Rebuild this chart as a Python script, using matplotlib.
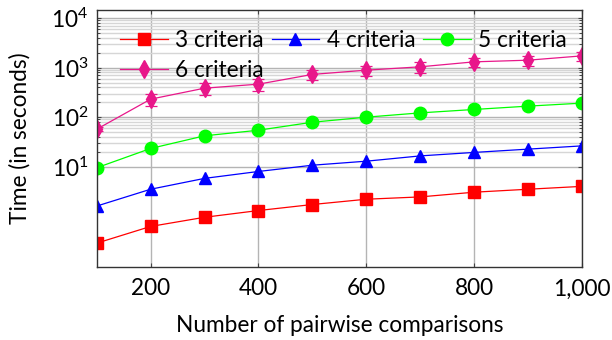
import numpy as np
import matplotlib.pyplot as plt
from matplotlib.ticker import FixedLocator, NullFormatter

plt.rcParams['font.family'] = ['Lato', 'DejaVu Sans']
plt.rcParams['mathtext.fontset'] = 'custom'
plt.rcParams['mathtext.rm'] = 'Lato'
plt.rcParams['mathtext.it'] = 'Lato:italic'

# Datos
comparaciones = [100, 200, 300, 400, 500, 600, 700, 800, 900, 1000]
t3 = [0.285, 0.62, 0.95, 1.3, 1.72, 2.2, 2.45, 3.05, 3.5, 4.0]
t4 = [1.6, 3.5, 5.8, 8.0, 10.7, 12.9, 16.5, 19.4, 22.6, 26.3]
t5 = [9.5, 23.3, 42, 54.5, 79, 100, 122, 143, 167, 192]
t6 = [57, 231, 385, 464, 730, 890, 1040, 1310, 1415, 1730]
err6 = [5, 60, 100, 120, 175, 210, 270, 270, 310, 350]

xticks = [200, 400, 600, 800, 1000]
xlabels = ['200', '400', '600', '800', '1,000']
yticks = [10, 100, 1000, 10000]
ylabels = ['$\\mathrm{10}^{1}$', '$\\mathrm{10}^{2}$', '$\\mathrm{10}^{3}$', '$\\mathrm{10}^{4}$']

rosa = '#e8178a'
fs = 16.3

fig = plt.figure(figsize=(6.12, 3.4), dpi=100)
ax = fig.add_axes([0.158, 0.214, 0.793, 0.757])

l3, = ax.plot(comparaciones, t3, color='red', marker='s', ms=8.5, lw=0.9)
l4, = ax.plot(comparaciones, t4, color='blue', marker='^', ms=8, lw=0.9)
l5, = ax.plot(comparaciones, t5, color='#00ff00', marker='o', ms=9, lw=0.9)
eb = ax.errorbar(comparaciones, t6, yerr=err6, color=rosa, marker='d', ms=9, lw=0.9,
                 elinewidth=0.9, capsize=4, capthick=0.9)
l6 = eb[0]

ax.set_yscale('log')
ax.set_xlim(100, 1000)
ax.set_ylim(0.093, 14700)

ax.set_xticks(xticks)
ax.set_xticklabels(xlabels)
ax.set_yticks(yticks)
ax.set_yticklabels(ylabels)
menores = [k * 10.0 ** d for d in (1, 2, 3) for k in range(2, 10)]
ax.yaxis.set_minor_locator(FixedLocator(menores))
ax.yaxis.set_minor_formatter(NullFormatter())
ax.xaxis.set_minor_locator(FixedLocator([]))

ax.tick_params(which='both', direction='in', top=True, right=True, labelsize=fs, color='#444444')
ax.tick_params(which='major', length=3, width=0.8)
ax.tick_params(which='minor', length=2, width=0.7)
ax.tick_params(axis='x', pad=8)
ax.tick_params(axis='y', pad=6)

ax.grid(which='major', color='#b4b4b4', lw=1.0)
ax.grid(which='minor', axis='y', color='#d6d6d6', lw=1.0)
ax.set_axisbelow(True)

for s in ax.spines.values():
    s.set_color('#333333')
    s.set_linewidth(1.0)

ax.set_xlabel('Number of pairwise comparisons', fontsize=fs, labelpad=11)
ax.set_ylabel('Time (in seconds)', fontsize=fs, labelpad=15)

# orden para que la leyenda se llene por filas
ax.legend([l3, l6, l4, l5], ['3 criteria', '6 criteria', '4 criteria', '5 criteria'],
          ncol=3, frameon=False, fontsize=fs, loc='upper left',
          bbox_to_anchor=(0.02, 0.975), handlelength=2.1, handletextpad=0.33,
          columnspacing=0.35, labelspacing=0.42, borderaxespad=0.2)

fig.savefig('out.png', dpi=100)
